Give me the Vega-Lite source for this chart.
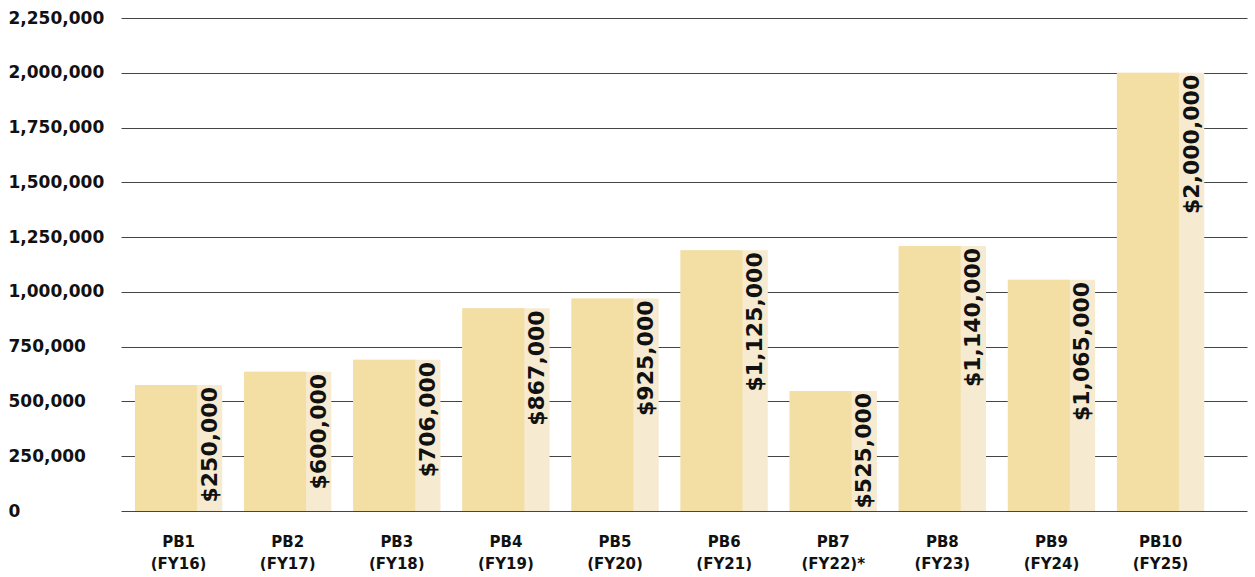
{
  "$schema": "https://vega.github.io/schema/vega-lite/v6.json",
  "width": 1126,
  "height": 493,
  "padding": {"left": 8, "top": 9, "right": 8, "bottom": 0},
  "background": "white",
  "config": {"view": {"stroke": null}, "font": "DejaVu Sans"},
  "data": {"values": [
    {"period": "PB1 (FY16)", "value": 575000, "label": "$250,000"},
    {"period": "PB2 (FY17)", "value": 635000, "label": "$600,000"},
    {"period": "PB3 (FY18)", "value": 690000, "label": "$706,000"},
    {"period": "PB4 (FY19)", "value": 925000, "label": "$867,000"},
    {"period": "PB5 (FY20)", "value": 970000, "label": "$925,000"},
    {"period": "PB6 (FY21)", "value": 1190000, "label": "$1,125,000"},
    {"period": "PB7 (FY22)*", "value": 548000, "label": "$525,000"},
    {"period": "PB8 (FY23)", "value": 1210000, "label": "$1,140,000"},
    {"period": "PB9 (FY24)", "value": 1055000, "label": "$1,065,000"},
    {"period": "PB10 (FY25)", "value": 2000000, "label": "$2,000,000"}
  ]},
  "encoding": {
    "x": {
      "field": "period", "type": "nominal", "sort": null,
      "scale": {"paddingInner": 0.2, "paddingOuter": 0.26, "align": 0.246},
      "axis": {
        "title": null, "domain": false, "ticks": false, "labelAngle": 0,
        "labelExpr": "split(datum.label, ' ')",
        "labelFontSize": 15, "labelFontWeight": "bold", "labelColor": "#111",
        "labelLineHeight": 22, "labelBaseline": "top", "labelPadding": 23
      }
    }
  },
  "layer": [
    {
      "mark": {"type": "bar", "color": "#F6EAD0"},
      "encoding": {
        "y": {
          "field": "value", "type": "quantitative",
          "scale": {"domain": [0, 2250000], "nice": false},
          "axis": {
            "title": null, "values": [0, 250000, 500000, 750000, 1000000, 1250000, 1500000, 1750000, 2000000, 2250000],
            "format": ",.0f", "domain": false, "ticks": false, "tickSize": 0,
            "grid": true, "gridColor": "#444", "gridWidth": 1,
            "labelAlign": "left", "labelPadding": 113,
            "labelFontSize": 17, "labelFontWeight": "bold", "labelColor": "#111"
          }
        }
      }
    },
    {
      "mark": {"type": "bar", "color": "#F3DFA4", "width": {"band": 0.71}, "xOffset": -12.65},
      "encoding": {"y": {"field": "value", "type": "quantitative"}}
    },
    {
      "mark": {"type": "text", "angle": 270, "align": "right", "baseline": "middle", "dx": -2, "xOffset": 31, "fontSize": 22, "fontWeight": "bold", "color": "#111"},
      "encoding": {
        "y": {"field": "value", "type": "quantitative"},
        "text": {"field": "label"}
      }
    }
  ]
}
